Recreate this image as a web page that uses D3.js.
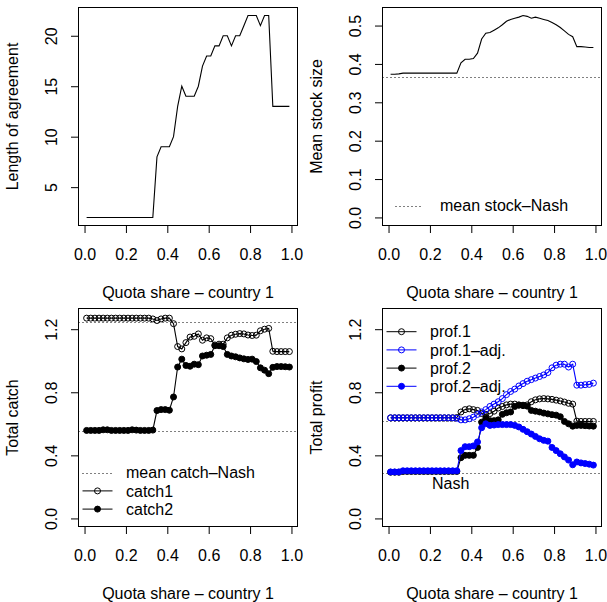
<!DOCTYPE html>
<html>
<head>
<meta charset="utf-8">
<script src="https://cdn.jsdelivr.net/npm/d3@7"></script>
<style>
  body { margin: 0; background: #fff; }
  svg { display: block; font-family: "Liberation Sans", Arial, Helvetica, sans-serif; }
</style>
</head>
<body>
<svg id="chart"></svg>
<script>
// quota share of country 1 (x for every panel)
const share = [0.01, 0.03, 0.05, 0.07, 0.09, 0.11, 0.13, 0.15, 0.17, 0.19,
               0.21, 0.23, 0.25, 0.27, 0.29, 0.31, 0.33, 0.35, 0.37, 0.39,
               0.41, 0.43, 0.45, 0.47, 0.49, 0.51, 0.53, 0.55, 0.57, 0.59,
               0.61, 0.63, 0.65, 0.67, 0.69, 0.71, 0.73, 0.75, 0.77, 0.79,
               0.81, 0.83, 0.85, 0.87, 0.89, 0.91, 0.93, 0.95, 0.97, 0.99];

const agreeLength = [2, 2, 2, 2, 2, 2, 2, 2, 2, 2, 2, 2, 2, 2, 2, 2, 2,
                     8, 9, 9, 9, 10, 13, 15, 14, 14, 14, 15, 17, 18, 18, 19, 19,
                     20, 20, 19, 20, 20, 21, 22, 22, 22, 21, 22, 22, 13, 13, 13, 13, 13];

const stockMean = [0.373, 0.373, 0.374, 0.376, 0.376, 0.376, 0.376, 0.376, 0.376, 0.376,
                   0.376, 0.376, 0.376, 0.376, 0.376, 0.376, 0.376,
                   0.403, 0.412, 0.412, 0.414, 0.428, 0.465, 0.48, 0.482, 0.488, 0.494,
                   0.502, 0.511, 0.516, 0.519, 0.522, 0.526, 0.524, 0.519, 0.522, 0.519,
                   0.516, 0.513, 0.508, 0.502, 0.495, 0.486, 0.477, 0.471, 0.445, 0.445,
                   0.444, 0.443, 0.443];
const stockNash = [0.365];

const catch1 = [1.27, 1.27, 1.27, 1.27, 1.27, 1.27, 1.27, 1.27, 1.27, 1.27, 1.27, 1.27, 1.27, 1.27, 1.27, 1.27,
                1.265, 1.255, 1.265, 1.27, 1.27, 1.235, 1.09, 1.075, 1.115, 1.15, 1.155, 1.17,
                1.13, 1.145, 1.14, 1.1, 1.105, 1.105, 1.145, 1.162, 1.168, 1.172, 1.17, 1.163,
                1.16, 1.162, 1.19, 1.2, 1.205, 1.06, 1.058, 1.058, 1.058, 1.058];
const catch2 = [0.558, 0.558, 0.558, 0.558, 0.562, 0.562, 0.558, 0.558, 0.558, 0.558, 0.558, 0.562,
                0.56, 0.558, 0.558, 0.558, 0.56,
                0.684, 0.69, 0.69, 0.686, 0.77, 0.96, 1.01, 0.97, 0.965, 0.978, 0.975, 1.03,
                1.035, 1.04, 1.095, 1.095, 1.09, 1.04, 1.03, 1.025, 1.018, 1.012, 1.008, 1.01,
                0.995, 0.955, 0.94, 0.918, 0.958, 0.963, 0.963, 0.962, 0.96];
const catchNash = [1.245, 0.552];

const prof1 = [0.638, 0.638, 0.638, 0.638, 0.638, 0.638, 0.638, 0.638, 0.638, 0.638, 0.638, 0.638,
               0.638, 0.638, 0.638, 0.638,
               0.64, 0.675, 0.69, 0.695, 0.69, 0.685, 0.665, 0.66, 0.665, 0.68, 0.7, 0.71,
               0.72, 0.725, 0.725, 0.72, 0.715, 0.72, 0.74, 0.752, 0.758, 0.76, 0.758, 0.755,
               0.75, 0.745, 0.738, 0.73, 0.725, 0.617, 0.615, 0.615, 0.615, 0.615];
const prof1Adj = [0.638, 0.638, 0.638, 0.638, 0.638, 0.638, 0.638, 0.638, 0.638, 0.638, 0.638, 0.638,
                  0.638, 0.638, 0.638, 0.638,
                  0.635, 0.625, 0.625, 0.632, 0.642, 0.66, 0.675, 0.69, 0.71, 0.725, 0.74, 0.76,
                  0.785, 0.805, 0.82, 0.84, 0.855, 0.87, 0.88, 0.89, 0.9, 0.91, 0.925, 0.955,
                  0.972, 0.978, 0.978, 0.96, 0.978, 0.845, 0.845, 0.848, 0.85, 0.858];
const prof2 = [0.293, 0.293, 0.293, 0.298, 0.298, 0.298, 0.298, 0.298, 0.298, 0.298, 0.298, 0.298,
               0.298, 0.298, 0.298, 0.298, 0.298,
               0.385, 0.4, 0.4, 0.4, 0.45, 0.61, 0.635, 0.62, 0.62, 0.625, 0.66, 0.67,
               0.675, 0.71, 0.718, 0.718, 0.712, 0.685, 0.68, 0.675, 0.668, 0.663, 0.658, 0.655,
               0.645, 0.615, 0.6, 0.585, 0.59, 0.59, 0.588, 0.586, 0.585];
const prof2Adj = [0.295, 0.295, 0.295, 0.302, 0.302, 0.302, 0.302, 0.302, 0.302, 0.302, 0.302, 0.302,
                  0.302, 0.302, 0.302, 0.302, 0.302,
                  0.43, 0.455, 0.455, 0.46, 0.485, 0.575, 0.6, 0.59, 0.592, 0.595, 0.595, 0.595,
                  0.595, 0.59, 0.58, 0.565, 0.55, 0.535, 0.52, 0.505, 0.495, 0.49, 0.45, 0.43,
                  0.41, 0.39, 0.37, 0.34, 0.358, 0.352, 0.348, 0.344, 0.338];
const profNash = [0.617, 0.29];

const shareTicks = [0, 0.2, 0.4, 0.6, 0.8, 1.0];
const agreeTicks = [5, 10, 15, 20];
const stockTicks = [0, 0.1, 0.2, 0.3, 0.4, 0.5];
const catchTicks = [0, 0.4, 0.8, 1.2];
const catchLim = [0, 1.28];

// R-like layout of one figure cell
const W = 607, H = 602;
const plot = {left: 78.5, right: 297.5, top: 7.5, bottom: 225.5};
const fontSize = 16;
const ptRadius = 3;

// R pads the data range by 4% on each side
const pad = ([a, b]) => [a - 0.04 * (b - a), b + 0.04 * (b - a)];
// snap a horizontal hairline to the pixel grid so the dots stay dark
const crisp = v => Math.round(v) + 0.5;

const svg = d3.select('#chart').attr('width', W).attr('height', H);

class QuotaPanel {

    constructor( config, series ){
        this.config = {
            left: config.left,
            top: config.top,
            ylim: config.ylim,
            yTicks: config.yTicks,
            yFormat: config.yFormat || d3.format('.1f'),
            ylab: config.ylab,
            nash: config.nash || [],
            legend: config.legend || null,
            note: config.note || null,
        }
        this.series = series;
        this.init();
    }

    init(){
        let self = this;

        self.chart = svg.append('g')
            .attr('transform', `translate(${self.config.left}, ${self.config.top})`);

        self.x = d3.scaleLinear()
            .domain( pad(d3.extent(share)) )
            .range([plot.left, plot.right]);

        self.y = d3.scaleLinear()
            .domain( pad(self.config.ylim) )
            .range([plot.bottom, plot.top]);

        const xAxis = d3.axisBottom(self.x)
            .tickValues(shareTicks)
            .tickSize(7.5)
            .tickPadding(16)
            .tickFormat(d3.format('.1f'));

        const xg = self.chart.append('g')
            .attr('transform', `translate(0, ${plot.bottom})`)
            .call(xAxis);
        xg.select('.domain').remove();
        xg.selectAll('text').style('font-size', fontSize + 'px').attr('fill', '#000');
        xg.selectAll('line').attr('stroke', '#000');

        const yAxis = d3.axisLeft(self.y)
            .tickValues(self.config.yTicks)
            .tickSize(7.5)
            .tickFormat(self.config.yFormat);

        const yg = self.chart.append('g')
            .attr('transform', `translate(${plot.left}, 0)`)
            .call(yAxis);
        yg.select('.domain').remove();
        yg.selectAll('line').attr('stroke', '#000');
        yg.selectAll('text')
            .attr('x', null).attr('dy', null)
            .attr('text-anchor', 'middle')
            .attr('transform', 'translate(-21.5, 0) rotate(-90)')
            .style('font-size', fontSize + 'px')
            .attr('fill', '#000');

        self.chart.append('rect')
            .attr('x', plot.left).attr('y', plot.top)
            .attr('width', plot.right - plot.left)
            .attr('height', plot.bottom - plot.top)
            .attr('fill', 'none')
            .attr('stroke', '#000');

        self.chart.append('text')
            .attr('x', (plot.left + plot.right) / 2)
            .attr('y', plot.bottom + 72.5)
            .attr('text-anchor', 'middle')
            .style('font-size', fontSize + 'px')
            .text('Quota share \u2013 country 1');

        self.chart.append('text')
            .attr('transform', `translate(${plot.left - 61}, ${(plot.top + plot.bottom) / 2}) rotate(-90)`)
            .attr('text-anchor', 'middle')
            .style('font-size', fontSize + 'px')
            .text(self.config.ylab);
    }

    render(){
        let self = this;
        const g = self.chart;

        g.selectAll('line.nash')
            .data(self.config.nash)
            .join('line')
            .attr('class', 'nash')
            .attr('x1', plot.left).attr('x2', plot.right)
            .attr('y1', d => crisp(self.y(d))).attr('y2', d => crisp(self.y(d)))
            .attr('stroke', '#000')
            .attr('stroke-dasharray', '1,3');

        const line = d3.line()
            .x(d => self.x(d[0]))
            .y(d => self.y(d[1]));

        self.series.forEach(s => {
            const pts = share.map((q, i) => [q, s.values[i]]);
            g.append('path')
                .datum(pts)
                .attr('d', line)
                .attr('fill', 'none')
                .attr('stroke', s.color)
                .attr('stroke-width', 1.1);
            if (s.pch){
                g.append('g').selectAll('circle')
                    .data(pts)
                    .join('circle')
                    .attr('cx', d => self.x(d[0]))
                    .attr('cy', d => self.y(d[1]))
                    .attr('r', ptRadius)
                    .attr('fill', s.pch === 'filled' ? s.color : 'none')
                    .attr('stroke', s.color)
                    .attr('stroke-width', 1);
            }
        });

        if (self.config.note){
            const n = self.config.note;
            g.append('text')
                .attr('x', self.x(n.at))
                .attr('y', self.y(n.value) + 16)
                .attr('text-anchor', 'middle')
                .style('font-size', fontSize + 'px')
                .text(n.label);
        }

        const lg = self.config.legend;
        if (lg){
            lg.items.forEach((it, i) => {
                const cy = lg.y + i * 18.2;
                g.append('line')
                    .attr('x1', plot.left + lg.x0).attr('x2', plot.left + lg.x1)
                    .attr('y1', it.dotted ? crisp(cy) : cy).attr('y2', it.dotted ? crisp(cy) : cy)
                    .attr('stroke', it.color)
                    .attr('stroke-dasharray', it.dotted ? '1,3' : null);
                if (it.pch){
                    g.append('circle')
                        .attr('cx', plot.left + (lg.x0 + lg.x1) / 2)
                        .attr('cy', cy)
                        .attr('r', ptRadius)
                        .attr('fill', it.pch === 'filled' ? it.color : 'none')
                        .attr('stroke', it.color);
                }
                g.append('text')
                    .attr('x', plot.left + lg.tx)
                    .attr('y', cy)
                    .attr('dy', '0.35em')
                    .style('font-size', fontSize + 'px')
                    .text(it.label);
            });
        }
    }
}

const colX = [0, 304], rowY = [0, 301];

new QuotaPanel({
    left: colX[0], top: rowY[0],
    ylim: d3.extent(agreeLength), yTicks: agreeTicks, yFormat: d3.format('d'),
    ylab: 'Length of agreement'
}, [
    {values: agreeLength, color: '#000'}
]).render();

new QuotaPanel({
    left: colX[1], top: rowY[0],
    ylim: [0, d3.max(stockMean)], yTicks: stockTicks,
    ylab: 'Mean stock size',
    nash: stockNash,
    legend: {x0: 13, x1: 41, tx: 57.5, y: 205.7, items: [
        {label: 'mean stock\u2013Nash', color: '#000', dotted: true}
    ]}
}, [
    {values: stockMean, color: '#000'}
]).render();

new QuotaPanel({
    left: colX[0], top: rowY[1],
    ylim: catchLim, yTicks: catchTicks,
    ylab: 'Total catch',
    nash: catchNash,
    legend: {x0: 4, x1: 34, tx: 47.5, y: 171.7, items: [
        {label: 'mean catch\u2013Nash', color: '#000', dotted: true},
        {label: 'catch1', color: '#000', pch: 'open'},
        {label: 'catch2', color: '#000', pch: 'filled'}
    ]}
}, [
    {values: catch1, color: '#000', pch: 'open'},
    {values: catch2, color: '#000', pch: 'filled'}
]).render();

new QuotaPanel({
    left: colX[1], top: rowY[1],
    ylim: catchLim, yTicks: catchTicks,
    ylab: 'Total profit',
    nash: profNash,
    note: {label: 'Nash', at: 0.3, value: profNash[1]},
    legend: {x0: 4, x1: 34, tx: 47.5, y: 30.7, items: [
        {label: 'prof.1', color: '#000', pch: 'open'},
        {label: 'prof.1\u2013adj.', color: '#0000ff', pch: 'open'},
        {label: 'prof.2', color: '#000', pch: 'filled'},
        {label: 'prof.2\u2013adj.', color: '#0000ff', pch: 'filled'}
    ]}
}, [
    {values: prof1, color: '#000', pch: 'open'},
    {values: prof1Adj, color: '#0000ff', pch: 'open'},
    {values: prof2, color: '#000', pch: 'filled'},
    {values: prof2Adj, color: '#0000ff', pch: 'filled'}
]).render();
</script>
</body>
</html>
